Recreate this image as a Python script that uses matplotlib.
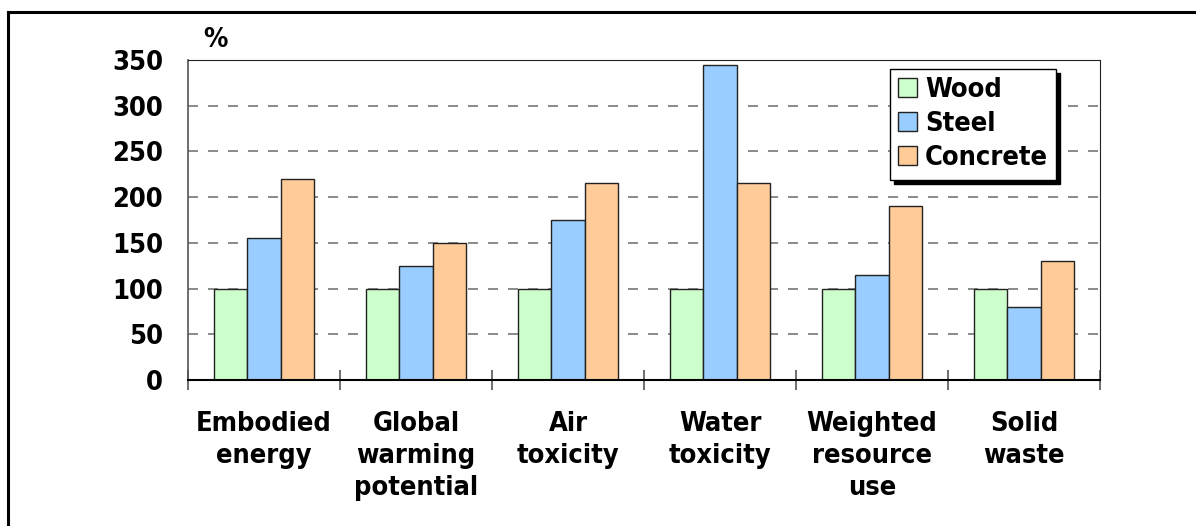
import matplotlib
matplotlib.use("Agg")
import matplotlib.pyplot as plt
import numpy as np
from matplotlib.lines import Line2D

categories = ["Embodied\nenergy", "Global\nwarming\npotential", "Air\ntoxicity",
              "Water\ntoxicity", "Weighted\nresource\nuse", "Solid\nwaste"]
series_names = ["Wood", "Steel", "Concrete"]
wood = [100, 100, 100, 100, 100, 100]
steel = [155, 125, 175, 345, 115, 80]
concrete = [220, 150, 215, 215, 190, 130]
colors = ["#CCFFCC", "#99CCFF", "#FFCC99"]
y_ticks = [0, 50, 100, 150, 200, 250, 300, 350]

plt.rcParams["font.family"] = ["DejaVu Sans"]
plt.rcParams["font.weight"] = "bold"
plt.rcParams["font.stretch"] = "condensed"

W, H = 1196, 526
fig = plt.figure(figsize=(W / 100, H / 100), dpi=100)
ax = fig.add_axes([188 / W, 1 - 380 / H, (1100 - 188) / W, (380 - 60) / H])

x = np.arange(len(categories))
bw = 0.22
for i, (vals, name, c) in enumerate(zip([wood, steel, concrete], series_names, colors)):
    ax.bar(x + (i - 1) * bw, vals, bw, color=c, edgecolor="#222222",
           linewidth=1.0, label=name, zorder=3)

ax.set_xlim(-0.5, len(categories) - 0.5)
ax.set_ylim(0, 350)
ax.set_yticks(y_ticks)
ax.set_yticklabels([str(v) for v in y_ticks], fontsize=19.5, fontweight="bold")
ax.tick_params(axis="y", length=0, pad=18)

# category labels centred, ticks at category boundaries
ax.set_xticks(x)
ax.set_xticklabels(categories, fontsize=19.5, fontweight="bold", linespacing=1.3)
ax.tick_params(axis="x", which="major", length=0, pad=22)
ax.set_xticks(np.arange(-0.5, len(categories)), minor=True)
ax.tick_params(axis="x", which="minor", direction="inout", length=14.4,
               width=1.2, color="#555555")

for yv in y_ticks[1:-1]:
    ax.axhline(yv, color="#777777", lw=1.2, ls=(0, (6, 6)), zorder=1)

ax.spines["left"].set_color("#555555")
ax.spines["left"].set_linewidth(1.2)
ax.spines["bottom"].set_color("black")
ax.spines["bottom"].set_linewidth(1.5)
ax.spines["bottom"].set_zorder(4)
ax.spines["top"].set_color("#222222")
ax.spines["right"].set_color("#222222")

fig.text(215 / W, 1 - 40 / H, "%", fontsize=19.5, fontweight="bold",
         ha="center", va="center")

leg = ax.legend(loc="upper right", bbox_to_anchor=((1056 - 188) / 912, (380 - 69) / 320),
                borderaxespad=0, prop={"weight": "bold", "size": 19.5, "stretch": "condensed"},
                frameon=True, fancybox=False, edgecolor="black",
                shadow={"color": "black", "alpha": 1, "ox": 3, "oy": -3},
                handlelength=0.7, handleheight=0.7, handletextpad=0.3,
                labelspacing=0.3, borderpad=0.3)
leg.get_frame().set_linewidth(1.0)

# outer frame (top and left edges)
fig.add_artist(Line2D([8 / W, 1.0], [1 - 12 / H, 1 - 12 / H], color="black", lw=2.2,
                      transform=fig.transFigure))
fig.add_artist(Line2D([8 / W, 8 / W], [1 - 12 / H, 0.0], color="black", lw=2.2,
                      transform=fig.transFigure))

fig.savefig("out.png", dpi=100)
